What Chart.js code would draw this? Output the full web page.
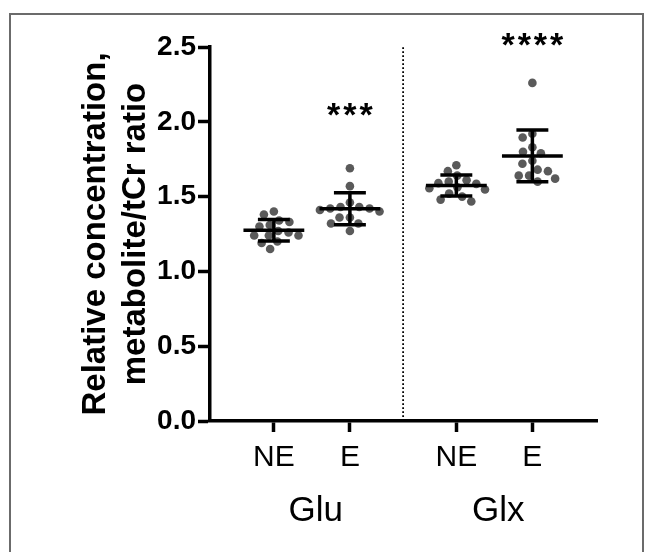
<!DOCTYPE html>
<html>
<head>
<meta charset="utf-8">
<script src="https://cdn.jsdelivr.net/npm/chart.js@4.4.1/dist/chart.umd.min.js"></script>
<style>
    html, body { margin: 0; padding: 0; background: #fff; overflow: hidden; }
    #wrap { position: relative; width: 654px; height: 552px; }
    #frame { position: absolute; left: 9px; top: 13px; width: 635px; height: 580px; border: 2px solid #6b6b6b; box-sizing: border-box; }
    #chart { position: absolute; left: 0; top: 0; }
</style>
</head>
<body>
<div id="wrap">
    <div id="frame"></div>
    <canvas id="chart" width="654" height="552"></canvas>
</div>
<script>
// groups and conditions on the x axis
const groups = ["Glu", "Glx"];
const conditions = ["NE", "E", "NE", "E"];
const positions = [1, 2, 3.4, 4.4];
const dividerAt = 2.7;

// metabolite/tCr ratios, one dot per subject
const gluNE = [1.40, 1.38, 1.34, 1.31, 1.33, 1.30, 1.27, 1.26, 1.24, 1.24, 1.24, 1.20, 1.19, 1.15];
const gluE = [1.69, 1.57, 1.46, 1.43, 1.42, 1.41, 1.40, 1.42, 1.43, 1.36, 1.36, 1.32, 1.32, 1.27];
const glxNE = [1.71, 1.67, 1.64, 1.60, 1.585, 1.61, 1.59, 1.556, 1.547, 1.562, 1.50, 1.52, 1.467, 1.48];
const glxE = [2.26, 1.92, 1.895, 1.83, 1.80, 1.79, 1.74, 1.72, 1.67, 1.68, 1.64, 1.64, 1.62, 1.60];

const yTicks = [0, 0.5, 1.0, 1.5, 2.0, 2.5];

// significance marks
const starLabels = ["***", "****"];
const starPositions = [2, 4.4];
const starValues = [2.105, 2.575];

const FONT = '"Liberation Sans", Arial, sans-serif';
const DOT_R = 4.3;
const MEAN_HALF = 0.4;
const CAP_HALF = 0.21;

const series = [gluNE, gluE, glxNE, glxE];
const groupCenters = [(positions[0] + positions[1]) / 2 + 0.05, (positions[2] + positions[3]) / 2 + 0.05];

function mean(a) {
    return a.reduce((s, v) => s + v, 0) / a.length;
}
function sd(a) {
    const m = mean(a);
    return Math.sqrt(a.reduce((s, v) => s + (v - m) ** 2, 0) / (a.length - 1));
}

function errorBarData(values, pos) {
    const m = mean(values), s = sd(values);
    return [
        { x: pos - MEAN_HALF, y: m }, { x: pos + MEAN_HALF, y: m }, { x: pos, y: null },
        { x: pos - CAP_HALF, y: m + s }, { x: pos + CAP_HALF, y: m + s }, { x: pos, y: null },
        { x: pos - CAP_HALF, y: m - s }, { x: pos + CAP_HALF, y: m - s }, { x: pos, y: null },
        { x: pos, y: m + s }, { x: pos, y: m - s }
    ];
}

const datasets = [];
series.forEach((values, i) => {
    datasets.push({
        type: 'scatter',
        data: errorBarData(values, positions[i]),
        showLine: true,
        spanGaps: false,
        borderColor: '#000',
        borderWidth: 3.5,
        pointRadius: 0,
        order: 0
    });
});
series.forEach((values, i) => {
    datasets.push({
        type: 'scatter',
        data: values.map(v => ({ x: positions[i], y: v })),
        backgroundColor: '#5a5a5a',
        borderWidth: 0,
        pointRadius: DOT_R,
        order: 1
    });
});
datasets.push({
    type: 'scatter',
    data: [{ x: dividerAt, y: 0 }, { x: dividerAt, y: 2.5 }],
    showLine: true,
    borderColor: '#000',
    borderWidth: 1.8,
    borderDash: [1.8, 2.2],
    pointRadius: 0,
    order: 2
});

const starPlugin = {
    id: 'stars',
    afterDatasetsDraw(chart) {
        const { ctx, scales: { x, y } } = chart;
        ctx.save();
        ctx.font = 'bold 34px ' + FONT;
        ctx.fillStyle = '#000';
        ctx.textAlign = 'center';
        ctx.textBaseline = 'alphabetic';
        ctx.letterSpacing = '3px';
        starLabels.forEach((t, i) => {
            ctx.fillText(t, x.getPixelForValue(starPositions[i]) + 1.5, y.getPixelForValue(starValues[i]) + 20);
        });
        ctx.restore();
    }
};

const chart = new Chart(document.getElementById('chart').getContext('2d'), {
    type: 'scatter',
    data: { datasets },
    options: {
        responsive: false,
        animation: false,
        layout: { padding: { left: 70, right: 57, top: 47, bottom: 16 } },
        plugins: { legend: { display: false }, tooltip: { enabled: false } },
        scales: {
            x: {
                type: 'linear',
                position: 'bottom',
                min: 0.16,
                max: 5.25,
                weight: 0,
                afterBuildTicks: s => { s.ticks = positions.map(v => ({ value: v })); },
                afterFit: s => { s.height = 55; },
                ticks: {
                    callback: (v, i) => conditions[i],
                    font: { family: FONT, size: 30 },
                    color: '#000',
                    padding: 8,
                    autoSkip: false,
                    maxRotation: 0
                },
                grid: { drawOnChartArea: false, tickLength: 11, tickWidth: 3.5, color: '#000' },
                border: { color: '#000', width: 3.5 }
            },
            x2: {
                type: 'linear',
                position: 'bottom',
                min: 0.16,
                max: 5.25,
                weight: 1,
                afterBuildTicks: s => { s.ticks = groupCenters.map(v => ({ value: v })); },
                afterFit: s => { s.height = 60; },
                ticks: {
                    callback: (v, i) => groups[i],
                    font: { family: FONT, size: 35 },
                    color: '#000',
                    padding: 14,
                    autoSkip: false,
                    maxRotation: 0
                },
                grid: { display: false, drawTicks: false },
                border: { display: false }
            },
            y: {
                min: 0,
                max: 2.5,
                afterBuildTicks: s => { s.ticks = yTicks.map(v => ({ value: v })); },
                afterFit: s => { s.width = 140; },
                ticks: {
                    callback: v => v.toFixed(1),
                    font: { family: FONT, size: 28, weight: 'bold' },
                    color: '#000',
                    padding: 2
                },
                grid: { drawOnChartArea: false, tickLength: 12, tickWidth: 3.5, color: '#000' },
                border: { color: '#000', width: 3.5 },
                title: {
                    display: true,
                    text: ['Relative concentration,', 'metabolite/tCr ratio'],
                    font: { family: FONT, size: 33, weight: 'bold', lineHeight: 1.21 },
                    color: '#000',
                    padding: { top: 6, bottom: 0 }
                }
            }
        }
    },
    plugins: [starPlugin]
});

// spread the dots sideways so they don't overlap (simple beeswarm in pixels)
function swarm(values, pos) {
    const xs = chart.scales.x, ys = chart.scales.y;
    const unit = xs.getPixelForValue(1) - xs.getPixelForValue(0);
    const d = 2 * DOT_R + 1.8;
    const placed = [];
    const out = new Array(values.length);
    const order = values.map((v, i) => i).sort((a, b) => values[b] - values[a]);
    order.forEach(i => {
        const py = ys.getPixelForValue(values[i]);
        const near = placed.filter(p => Math.abs(p.y - py) < d);
        const cands = [0];
        near.forEach(p => {
            const w = Math.sqrt(d * d - (p.y - py) ** 2);
            cands.push(p.x - w, p.x + w);
        });
        cands.sort((a, b) => Math.abs(a) - Math.abs(b));
        const dx = cands.find(c => near.every(p => (p.x - c) ** 2 + (p.y - py) ** 2 >= d * d - 0.01));
        placed.push({ x: dx, y: py });
        out[i] = { x: pos + dx / unit, y: values[i] };
    });
    return out;
}

series.forEach((values, i) => {
    chart.data.datasets[series.length + i].data = swarm(values, positions[i]);
});
chart.update('none');
</script>
</body>
</html>
